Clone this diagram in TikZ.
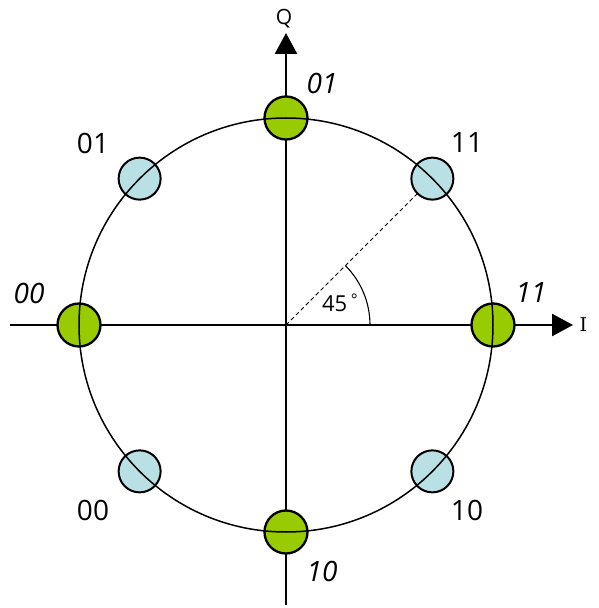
\documentclass[tikz,border=0pt]{standalone}
\usepackage{fontspec}
\setmainfont{Open Sans}
\newfontfamily\axisfont{DejaVu Serif}
\usetikzlibrary{arrows.meta}
\definecolor{dotgreen}{RGB}{153,204,0}
\definecolor{dotblue}{RGB}{185,224,228}

\tikzset{
  axis/.style={line width=2.6pt,-{Triangle[length=21pt,width=22pt]}},
  greendot/.style={circle,draw,line width=2.3pt,fill=dotgreen,minimum size=43pt,inner sep=0pt},
  bluedot/.style={circle,draw,line width=2pt,fill=dotblue,minimum size=42pt,inner sep=0pt},
  bits/.style={font=\fontsize{28}{32}\selectfont},
  itbits/.style={font=\fontsize{28}{32}\selectfont\itshape}
}

\begin{document}
\begin{tikzpicture}[x=1pt,y=1pt]
  \useasboundingbox (-286,-283) rectangle (313,325);
  % axes
  \draw[axis] (-276,0)--(287,0) node[right=2pt,font=\fontsize{19}{22}\selectfont\axisfont] (ilab) {I};
  \draw[axis] (0,-280)--(0,292);
  \node[anchor=base,font=\fontsize{21}{24}\selectfont] (qlab) at (-2,300) {Q};
  % 45 degree marker
  \draw[line width=0.9pt,dash pattern=on 4pt off 3pt] (0,0)--(45:207);
  \draw[line width=1.1pt] (84,0) arc (0:45:84);
  \node[font=\fontsize{22}{26}\selectfont] (ang) at (54,22) {45\,\raisebox{0.55ex}{\fontsize{16}{18}\selectfont °}};
  % constellation points
  \foreach \a/\n in {90/q1,0/q2,270/q3,180/q4} \node[greendot] (\n) at (\a:207) {};
  \foreach \a/\n in {45/p1,135/p2,225/p3,315/p4} \node[bluedot] (\n) at (\a:207) {};
  \draw[line width=1.5pt] (0,0) circle (207);
  % bit labels
  \node[itbits] (l1) at (36,242) {01};
  \node[itbits] (l2) at (245,32) {11};
  \node[itbits] (l3) at (36,-246) {10};
  \node[itbits] (l4) at (-257,32) {00};
  \node[bits] (m1) at (181,182) {11};
  \node[bits] (m2) at (-193,182) {01};
  \node[bits] (m3) at (-193,-185) {00};
  \node[bits] (m4) at (181,-185) {10};
\end{tikzpicture}
\end{document}
